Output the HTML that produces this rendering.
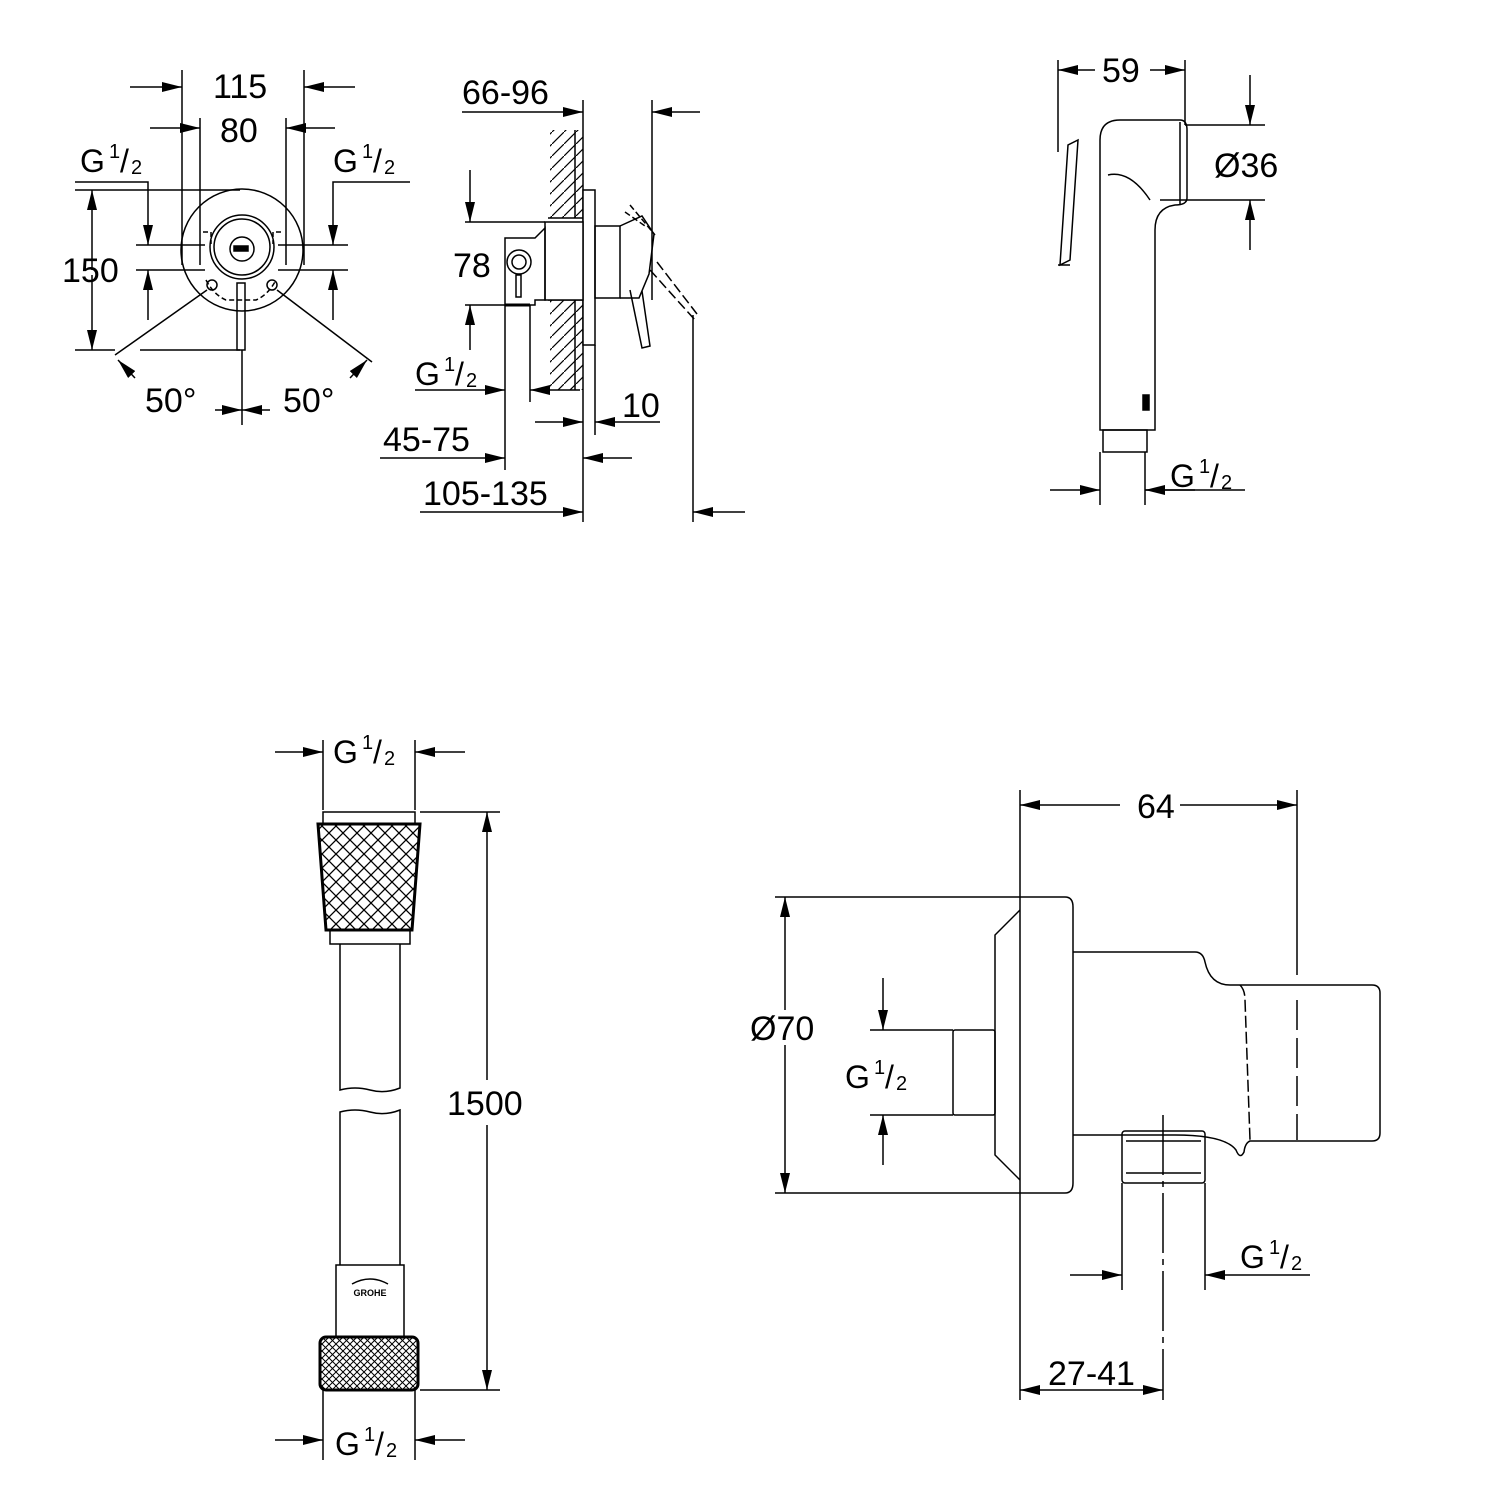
<!DOCTYPE html>
<html><head><meta charset="utf-8"><style>
html,body{margin:0;padding:0;background:#fff}
svg{display:block}
text{font-family:"Liberation Sans",Arial,sans-serif;fill:#000}
.t{font-size:34px}
.g{font-size:32px}
.s{font-size:20px}
</style></head><body>
<svg width="1500" height="1500" viewBox="0 0 1500 1500" xmlns="http://www.w3.org/2000/svg">
<defs>
<marker id="a" viewBox="0 0 20 10" refX="20" refY="5" markerWidth="20" markerHeight="10" markerUnits="userSpaceOnUse" orient="auto"><path d="M0,0 L20,5 L0,10 z" fill="#000"/></marker>
<pattern id="knurl" width="14" height="14" patternUnits="userSpaceOnUse"><path d="M0,0 L14,14 M14,0 L0,14" stroke="#000" stroke-width="1.3"/></pattern>
<pattern id="knurl2" width="7" height="7" patternUnits="userSpaceOnUse"><path d="M0,0 L7,7 M7,0 L0,7" stroke="#000" stroke-width="1"/></pattern>
<pattern id="hatch" width="12" height="12" patternUnits="userSpaceOnUse"><path d="M0,12 L12,0" stroke="#000" stroke-width="1.2"/></pattern>
</defs>
<g stroke="#000" stroke-width="1.5" fill="none">
<!-- ===== Top-left front view ===== -->
<line x1="182" y1="70" x2="182" y2="265"/><line x1="304" y1="70" x2="304" y2="265"/>
<line x1="130" y1="87" x2="182" y2="87" marker-end="url(#a)"/><line x1="355" y1="87" x2="304" y2="87" marker-end="url(#a)"/>
<line x1="200" y1="118" x2="200" y2="265"/><line x1="286" y1="118" x2="286" y2="265"/>
<line x1="150" y1="128" x2="200" y2="128" marker-end="url(#a)"/><line x1="335" y1="128" x2="286" y2="128" marker-end="url(#a)"/>
<polyline points="75,182 148,182 148,245" marker-end="url(#a)"/>
<polyline points="410,182 333,182 333,245" marker-end="url(#a)"/>
<line x1="136" y1="245" x2="205" y2="245"/><line x1="136" y1="270" x2="205" y2="270"/>
<line x1="278" y1="245" x2="348" y2="245"/><line x1="278" y1="270" x2="348" y2="270"/>
<line x1="148" y1="320" x2="148" y2="270" marker-end="url(#a)"/><line x1="333" y1="320" x2="333" y2="270" marker-end="url(#a)"/>
<line x1="75" y1="190" x2="240" y2="190"/><line x1="75" y1="350" x2="115" y2="350"/><line x1="140" y1="350" x2="240" y2="350"/>
<line x1="92" y1="270" x2="92" y2="190" marker-end="url(#a)"/><line x1="92" y1="275" x2="92" y2="350" marker-end="url(#a)"/>
<circle cx="242" cy="250" r="61"/>
<circle cx="242" cy="247" r="32"/><circle cx="242" cy="247" r="28"/>
<circle cx="242" cy="249" r="12"/>
<rect x="234" y="246" width="14" height="5" fill="#000"/>
<rect x="237" y="283" width="8" height="67"/>
<path d="M203,232 h8 v12 M281,232 h-8 v12 M206,280 q8,15 20,20 h30 q12,-5 20,-20" stroke-dasharray="5,3"/>
<circle cx="212" cy="285" r="5"/><circle cx="272" cy="285" r="5"/>
<line x1="207" y1="290" x2="115" y2="355"/><line x1="277" y1="290" x2="372" y2="362"/>
<line x1="135" y1="378" x2="118" y2="360" marker-end="url(#a)"/>
<line x1="350" y1="378" x2="367" y2="360" marker-end="url(#a)"/>
<line x1="242" y1="350" x2="242" y2="425"/>
<line x1="215" y1="410" x2="242" y2="410" marker-end="url(#a)"/><line x1="270" y1="410" x2="242" y2="410" marker-end="url(#a)"/>
<!-- ===== Top-middle side view ===== -->
<line x1="462" y1="112" x2="583" y2="112" marker-end="url(#a)"/>
<line x1="583" y1="100" x2="583" y2="522"/>
<rect x="550" y="130" width="33" height="88" fill="url(#hatch)" stroke="none"/>
<rect x="550" y="300" width="33" height="90" fill="url(#hatch)" stroke="none"/>
<line x1="575" y1="130" x2="575" y2="218"/><line x1="575" y1="300" x2="575" y2="390"/>
<line x1="548" y1="218" x2="583" y2="218"/><line x1="548" y1="300" x2="583" y2="300"/>
<rect x="583" y="190" width="12" height="155" fill="#fff"/>
<rect x="545" y="222" width="38" height="78" fill="#fff"/>
<rect x="595" y="226" width="25" height="72"/>
<path d="M620,226 l22,-10 l12,18 l-5,40 l-10,24 h-19"/>
<path d="M625,212 l20,14 M630,205 l25,30" stroke-dasharray="6,3"/>
<path d="M630,290 l12,58 l8,-2 l-8,-55"/>
<path d="M650,270 l45,50 M657,262 l40,52" stroke-dasharray="10,4"/>
<line x1="652" y1="100" x2="652" y2="300"/>
<line x1="700" y1="112" x2="652" y2="112" marker-end="url(#a)"/>
<line x1="693" y1="315" x2="693" y2="522"/>
<line x1="745" y1="512" x2="693" y2="512" marker-end="url(#a)"/>
<path d="M505,238 h30 l10,-10 v10 h0 v62 h-10 v5 h-30 z"/>
<circle cx="519" cy="262" r="12"/><circle cx="519" cy="262" r="7"/>
<rect x="516" y="275" width="5" height="22"/>
<line x1="505" y1="305" x2="530" y2="305" stroke-width="3"/>
<line x1="470" y1="170" x2="470" y2="222" marker-end="url(#a)"/>
<line x1="465" y1="222" x2="545" y2="222"/>
<line x1="470" y1="350" x2="470" y2="305" marker-end="url(#a)"/>
<line x1="465" y1="305" x2="510" y2="305"/>
<line x1="505" y1="305" x2="505" y2="470"/><line x1="530" y1="305" x2="530" y2="402"/>
<line x1="415" y1="390" x2="505" y2="390" marker-end="url(#a)"/>
<line x1="580" y1="390" x2="530" y2="390" marker-end="url(#a)"/>
<line x1="595" y1="345" x2="595" y2="435"/>
<line x1="535" y1="422" x2="583" y2="422" marker-end="url(#a)"/>
<line x1="660" y1="422" x2="595" y2="422" marker-end="url(#a)"/>
<line x1="380" y1="458" x2="505" y2="458" marker-end="url(#a)"/>
<line x1="632" y1="458" x2="583" y2="458" marker-end="url(#a)"/>
<line x1="420" y1="512" x2="583" y2="512" marker-end="url(#a)"/>
<!-- ===== Top-right hand shower ===== -->
<line x1="1058" y1="60" x2="1058" y2="152"/><line x1="1185" y1="60" x2="1185" y2="125"/>
<line x1="1095" y1="70" x2="1058" y2="70" marker-end="url(#a)"/>
<line x1="1150" y1="70" x2="1185" y2="70" marker-end="url(#a)"/>
<line x1="1185" y1="125" x2="1265" y2="125"/><line x1="1160" y1="200" x2="1265" y2="200"/>
<line x1="1250" y1="75" x2="1250" y2="125" marker-end="url(#a)"/>
<line x1="1250" y1="250" x2="1250" y2="200" marker-end="url(#a)"/>
<path d="M1100,430 V140 Q1100,120 1120,120 H1180 Q1187,120 1187,130 V198 Q1187,205 1175,205 Q1155,208 1155,230 V430 Z"/>
<path d="M1180,122 V205" />
<path d="M1108,175 Q1130,170 1150,200"/>
<path d="M1078,140 L1070,260 L1060,265 L1068,145 Z"/>
<path d="M1070,265 L1058,265"/>
<rect x="1143" y="395" width="6" height="15" fill="#000"/>
<rect x="1103" y="430" width="44" height="22"/>
<line x1="1100" y1="452" x2="1100" y2="505"/><line x1="1145" y1="452" x2="1145" y2="505"/>
<line x1="1050" y1="490" x2="1100" y2="490" marker-end="url(#a)"/>
<line x1="1195" y1="490" x2="1145" y2="490" marker-end="url(#a)"/>
<line x1="1145" y1="490" x2="1245" y2="490"/>
<!-- ===== Bottom-left hose ===== -->
<line x1="323" y1="740" x2="323" y2="810"/><line x1="415" y1="740" x2="415" y2="810"/>
<line x1="275" y1="752" x2="323" y2="752" marker-end="url(#a)"/>
<line x1="465" y1="752" x2="415" y2="752" marker-end="url(#a)"/>
<rect x="323" y="812" width="92" height="12"/>
<path d="M318,824 H420 L412,930 H326 Z" fill="url(#knurl)"/>
<path d="M318,824 H420 L412,930 H326 Z" stroke-width="3"/>
<rect x="330" y="930" width="80" height="14"/>
<path d="M340,944 V1090 Q355,1086 370,1090 T400,1088 V944"/>
<path d="M340,1265 V1112 Q355,1108 370,1112 T400,1110 V1265"/>
<rect x="336" y="1265" width="68" height="72"/>
<text x="370" y="1296" style="font-size:9px;font-weight:bold" text-anchor="middle" stroke="none">GROHE</text>
<path d="M352,1284 q18,-10 36,0" />
<rect x="320" y="1337" width="98" height="53" rx="6" fill="url(#knurl2)" stroke-width="3"/>
<line x1="420" y1="812" x2="500" y2="812"/><line x1="420" y1="1390" x2="500" y2="1390"/>
<line x1="487" y1="1080" x2="487" y2="812" marker-end="url(#a)"/>
<line x1="487" y1="1125" x2="487" y2="1390" marker-end="url(#a)"/>
<line x1="323" y1="1390" x2="323" y2="1460"/><line x1="415" y1="1390" x2="415" y2="1460"/>
<line x1="275" y1="1440" x2="323" y2="1440" marker-end="url(#a)"/>
<line x1="465" y1="1440" x2="415" y2="1440" marker-end="url(#a)"/>
<!-- ===== Bottom-right wall outlet ===== -->
<line x1="1020" y1="790" x2="1020" y2="1400"/><line x1="1297" y1="790" x2="1297" y2="975"/>
<line x1="1297" y1="1000" x2="1297" y2="1140" stroke-dasharray="30,8"/>
<line x1="1120" y1="805" x2="1020" y2="805" marker-end="url(#a)"/>
<line x1="1180" y1="805" x2="1297" y2="805" marker-end="url(#a)"/>
<line x1="775" y1="897" x2="1020" y2="897"/><line x1="775" y1="1193" x2="1020" y2="1193"/>
<line x1="785" y1="1010" x2="785" y2="897" marker-end="url(#a)"/>
<line x1="785" y1="1045" x2="785" y2="1193" marker-end="url(#a)"/>
<path d="M1020,897 H1065 Q1073,897 1073,907 V1183 Q1073,1193 1065,1193 H1020"/>
<path d="M1020,910 L995,935 V1155 L1020,1180"/>
<rect x="953" y="1030" width="42" height="85" rx="2"/>
<line x1="870" y1="1030" x2="953" y2="1030"/><line x1="870" y1="1115" x2="953" y2="1115"/>
<line x1="883" y1="978" x2="883" y2="1030" marker-end="url(#a)"/>
<line x1="883" y1="1165" x2="883" y2="1115" marker-end="url(#a)"/>
<path d="M1073,952 H1195 Q1203,952 1205,962 Q1210,985 1230,985 H1372 Q1380,985 1380,993 V1133 Q1380,1141 1372,1141 H1250 Q1245,1143 1244,1152 Q1240,1160 1236,1150 Q1225,1135 1175,1135 H1073"/>
<path d="M1240,985 Q1245,990 1245,1000 L1250,1140" stroke-dasharray="12,4"/>
<rect x="1122" y="1131" width="83" height="52" rx="3"/>
<line x1="1126" y1="1141" x2="1201" y2="1141"/><line x1="1126" y1="1173" x2="1201" y2="1173"/>
<line x1="1163" y1="1115" x2="1163" y2="1400" stroke-dasharray="60,6,6,6"/>
<line x1="1122" y1="1183" x2="1122" y2="1290"/><line x1="1205" y1="1183" x2="1205" y2="1290"/>
<line x1="1070" y1="1275" x2="1122" y2="1275" marker-end="url(#a)"/>
<line x1="1310" y1="1275" x2="1205" y2="1275" marker-end="url(#a)"/>
<line x1="1090" y1="1390" x2="1020" y2="1390" marker-end="url(#a)"/>
<line x1="1090" y1="1390" x2="1163" y2="1390" marker-end="url(#a)"/>
</g>
<!-- ===== Texts ===== -->
<g stroke="none">
<text class="t" x="213" y="98">115</text>
<text class="t" x="220" y="142">80</text>
<text class="g" x="80" y="172">G</text><text class="s" x="109" y="158">1</text><text class="g" x="120" y="172">/</text><text class="s" x="131" y="174">2</text>
<text class="g" x="333" y="172">G</text><text class="s" x="362" y="158">1</text><text class="g" x="373" y="172">/</text><text class="s" x="384" y="174">2</text>
<text class="t" x="62" y="282">150</text>
<text class="t" x="145" y="412">50°</text>
<text class="t" x="283" y="412">50°</text>
<text class="t" x="462" y="104">66-96</text>
<text class="t" x="453" y="277">78</text>
<text class="g" x="415" y="385">G</text><text class="s" x="444" y="371">1</text><text class="g" x="455" y="385">/</text><text class="s" x="466" y="387">2</text>
<text class="t" x="622" y="417">10</text>
<text class="t" x="383" y="451">45-75</text>
<text class="t" x="423" y="505">105-135</text>
<text class="t" x="1102" y="82">59</text>
<text class="t" x="1214" y="177">Ø36</text>
<text class="g" x="1170" y="487">G</text><text class="s" x="1199" y="473">1</text><text class="g" x="1210" y="487">/</text><text class="s" x="1221" y="489">2</text>
<text class="g" x="333" y="763">G</text><text class="s" x="362" y="749">1</text><text class="g" x="373" y="763">/</text><text class="s" x="384" y="765">2</text>
<text class="t" x="447" y="1115">1500</text>
<text class="g" x="335" y="1455">G</text><text class="s" x="364" y="1441">1</text><text class="g" x="375" y="1455">/</text><text class="s" x="386" y="1457">2</text>
<text class="t" x="1137" y="818">64</text>
<text class="t" x="750" y="1040">Ø70</text>
<text class="g" x="845" y="1088">G</text><text class="s" x="874" y="1074">1</text><text class="g" x="885" y="1088">/</text><text class="s" x="896" y="1090">2</text>
<text class="g" x="1240" y="1268">G</text><text class="s" x="1269" y="1254">1</text><text class="g" x="1280" y="1268">/</text><text class="s" x="1291" y="1270">2</text>
<text class="t" x="1048" y="1385">27-41</text>
</g>
</svg>
</body></html>
